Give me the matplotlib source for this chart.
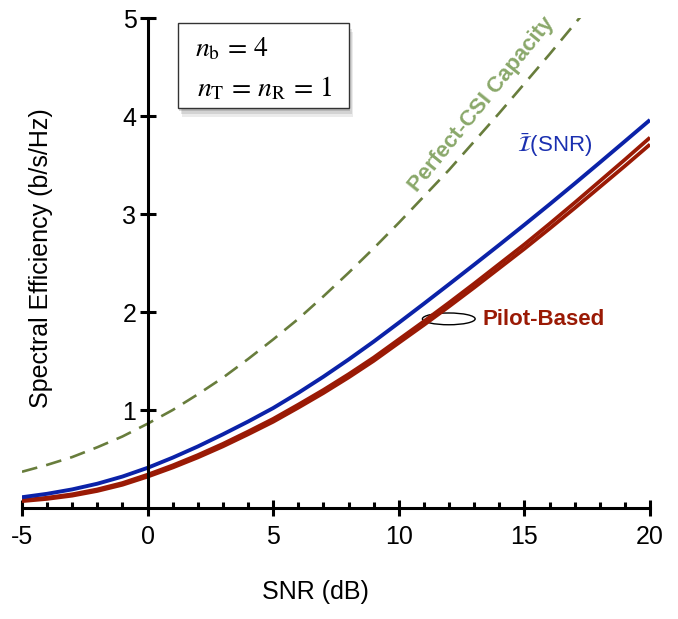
import matplotlib
matplotlib.use("Agg")
import matplotlib.pyplot as plt
from matplotlib.patches import Rectangle, Ellipse
from matplotlib.ticker import MultipleLocator

plt.rcParams['font.family'] = ['Liberation Sans Narrow', 'Liberation Sans', 'DejaVu Sans']
plt.rcParams['mathtext.fontset'] = 'stix'
plt.rcParams['axes.unicode_minus'] = False

# data (SNR in dB, spectral efficiency in b/s/Hz)
snr_db = [-5, -4, -3, -2, -1, 0, 1, 2, 3, 4, 5, 6, 7, 8, 9, 10,
          11, 12, 13, 14, 15, 16, 17, 18, 19, 20]
perfect_csi = [0.37, 0.44, 0.52, 0.62, 0.73, 0.86, 1.00, 1.16, 1.33, 1.52, 1.72,
               1.93, 2.16, 2.40, 2.65, 2.91, 3.18, 3.45, 3.74, 4.03, 4.33,
               4.63, 4.94, 5.25, 5.57, 5.88]
mi_bar = [0.11, 0.145, 0.19, 0.248, 0.321, 0.41, 0.514, 0.628, 0.752, 0.882, 1.02,
          1.175, 1.34, 1.515, 1.698, 1.89, 2.085, 2.283, 2.483, 2.685, 2.89,
          3.098, 3.31, 3.525, 3.742, 3.96]
pilot_a = [0.08, 0.105, 0.14, 0.19, 0.255, 0.34, 0.435, 0.54, 0.655, 0.78, 0.91,
           1.055, 1.205, 1.365, 1.535, 1.72, 1.905, 2.095, 2.29, 2.49, 2.69,
           2.90, 3.115, 3.335, 3.555, 3.78]
pilot_b = [0.07, 0.093, 0.126, 0.174, 0.237, 0.32, 0.413, 0.516, 0.629, 0.752, 0.88,
           1.024, 1.173, 1.332, 1.501, 1.685, 1.868, 2.056, 2.249, 2.447, 2.645,
           2.85, 3.06, 3.275, 3.49, 3.71]

xticks = [-5, 0, 5, 10, 15, 20]
yticks = [1, 2, 3, 4, 5]

fig = plt.figure(figsize=(6.78, 6.19), dpi=100)
ax = fig.add_axes([0.0324, 0.1793, 0.9263, 0.7916])

ax.plot(snr_db, perfect_csi, color='#687d3c', lw=1.9, dashes=(6, 3.5), zorder=3)
ax.plot(snr_db, pilot_b, color='#9a1a05', lw=2.7, zorder=4, solid_capstyle='butt')
ax.plot(snr_db, pilot_a, color='#9a1a05', lw=2.7, zorder=4, solid_capstyle='butt')
ax.plot(snr_db, mi_bar, color='#0b22a8', lw=2.8, zorder=5, solid_capstyle='butt')

ax.set_xlim(-5, 20)
ax.set_ylim(0, 5)
ax.spines['top'].set_visible(False)
ax.spines['right'].set_visible(False)
ax.spines['left'].set_position(('data', 0))
for s in ['left', 'bottom']:
    ax.spines[s].set_linewidth(2.2)
    ax.spines[s].set_zorder(6)

ax.set_xticks(xticks)
ax.set_yticks(yticks)
ax.xaxis.set_minor_locator(MultipleLocator(1))
ax.tick_params(axis='both', which='major', direction='inout', length=12,
               width=2.2, labelsize=18, pad=2)
ax.tick_params(axis='x', which='minor', direction='in', length=4.5, width=2.2)
ax.tick_params(axis='x', which='major', pad=6)
ax.tick_params(axis='y', which='major', pad=2)

fig.text(0.465, 0.025, 'SNR (dB)', fontsize=18, ha='center', va='bottom')
fig.text(0.06, 0.583, 'Spectral Efficiency (b/s/Hz)', fontsize=18,
         rotation=90, ha='center', va='center')

# parameter box with soft shadow
for i, a in enumerate([0.10, 0.14, 0.2]):
    ax.add_patch(Rectangle((1.2 + 0.06 * (3 - i), 4.08 - 0.03 * (3 - i)), 6.8, 0.87,
                           facecolor='#444444', edgecolor='none', alpha=a,
                           clip_on=False, zorder=6))
box = Rectangle((1.2, 4.08), 6.8, 0.87, facecolor='white', edgecolor='#333333',
                lw=1.0, clip_on=False, zorder=7)
ax.add_patch(box)
ax.text(1.9, 4.68, r'$n_{\mathrm{b}}\,=\,4$', fontsize=20, zorder=8, va='center')
ax.text(1.95, 4.28, r'$n_{\mathrm{T}}\,=\,n_{\mathrm{R}}\,=\,1$', fontsize=20,
        zorder=8, va='center')

ax.text(13.3, 4.12, 'Perfect-CSI Capacity', color='#8aa86a', fontsize=16,
        fontweight='bold', rotation=51, ha='center', va='center',
        rotation_mode='anchor')
ax.text(16.2, 3.7, r'$\bar{\mathcal{I}}$(SNR)', color='#1b30b0',
        fontsize=16, ha='center', va='center')
ax.text(13.35, 1.92, 'Pilot-Based', color='#9a1a05', fontsize=16,
        fontweight='bold', ha='left', va='center')
ax.add_patch(Ellipse((11.99, 1.93), 2.1, 0.12, fill=False, edgecolor='black',
                     lw=1.0, zorder=3))

fig.savefig('out.png', dpi=100)
